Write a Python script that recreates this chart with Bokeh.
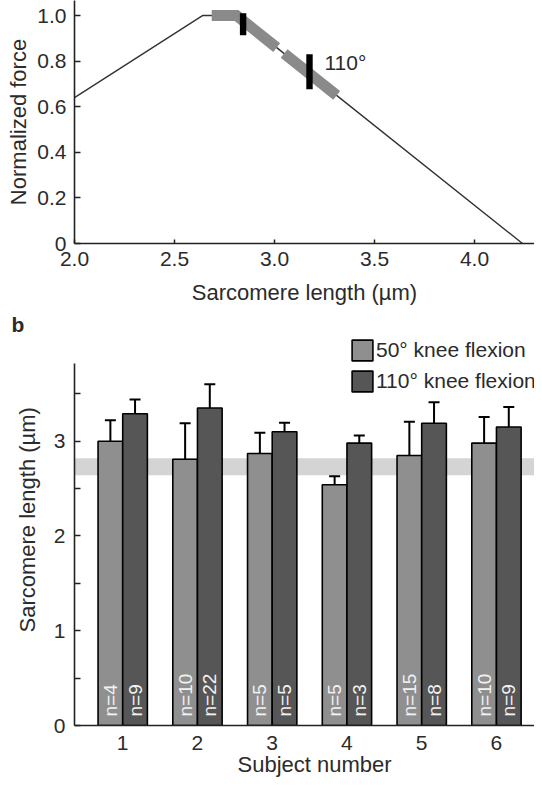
import numpy as np
from bokeh.plotting import figure
from bokeh.layouts import column
from bokeh.models import (FixedTicker, ColumnDataSource, Whisker, TeeHead, BoxAnnotation,
                          Legend, LegendItem, Title, Range1d)
from bokeh.core.properties import value
from bokeh.embed import file_html
from bokeh.resources import INLINE

FONT = "Liberation Sans"
TXT = "#2b2b2b"
AX = "#222222"

# ---------------- panel a: force-length relation ----------------
fl_x = [2.0, 2.64, 2.81, 4.24]
fl_y = [0.64, 1.0, 1.0, 0.0]
range50 = [2.686, 3.011]
range110 = [3.048, 3.311]
marker_x = [2.843, 3.175]
marker_lo = [0.914, 0.677]
marker_hi = [1.01, 0.83]
angle_label = "110°"
top_x_ticks = [2.0, 2.5, 3.0, 3.5, 4.0]
top_x_labels = ["2.0", "2.5", "3.0", "3.5", "4.0"]
top_y_ticks = [0, 0.2, 0.4, 0.6, 0.8, 1.0]
top_y_labels = ["0", "0.2", "0.4", "0.6", "0.8", "1.0"]

# ---------------- panel b: sarcomere lengths ----------------
subjects = [1, 2, 3, 4, 5, 6]
mean50 = [3.00, 2.81, 2.87, 2.54, 2.85, 2.98]
sd50 = [0.22, 0.38, 0.22, 0.09, 0.355, 0.275]
mean110 = [3.29, 3.35, 3.10, 2.98, 3.19, 3.15]
sd110 = [0.15, 0.25, 0.095, 0.08, 0.22, 0.21]
n50 = ["n=4", "n=10", "n=5", "n=5", "n=15", "n=10"]
n110 = ["n=9", "n=22", "n=5", "n=3", "n=8", "n=9"]
optimal = [2.64, 2.82]
bot_y_ticks = [0, 1, 2, 3]
bot_y_minor = [0.5, 1.5, 2.5, 3.5]
bot_y_axis_top = 3.82
series_labels = ["50° knee flexion", "110° knee flexion"]


def style_axes(p):
    for ax in (p.xaxis[0], p.yaxis[0]):
        ax.axis_line_color = AX
        ax.axis_line_width = 1.6
        ax.major_tick_line_color = AX
        ax.major_tick_line_width = 1.5
        ax.minor_tick_line_color = AX
        ax.minor_tick_line_width = 1.5
        ax.major_tick_out = 0
        ax.minor_tick_out = 0
        ax.major_label_text_font = FONT
        ax.major_label_text_font_size = "21px"
        ax.major_label_text_color = TXT
        ax.axis_label_text_font = FONT
        ax.axis_label_text_font_size = "22px"
        ax.axis_label_text_font_style = "normal"
        ax.axis_label_text_color = TXT
    p.xgrid.visible = False
    p.ygrid.visible = False
    p.outline_line_color = None


# ---------------- figure a ----------------
p1 = figure(width=534, height=338, x_range=Range1d(2.0, 4.30), y_range=Range1d(0, 1.066),
            output_backend="svg", toolbar_location=None,
            min_border_left=74, min_border_right=0, min_border_top=0, min_border_bottom=95)
style_axes(p1)
p1.xaxis.ticker = FixedTicker(ticks=top_x_ticks, minor_ticks=[])
p1.xaxis.major_label_overrides = dict(zip(top_x_ticks, top_x_labels))
p1.yaxis.ticker = FixedTicker(ticks=top_y_ticks, minor_ticks=[])
p1.yaxis.major_label_overrides = dict(zip(top_y_ticks, top_y_labels))
p1.xaxis.major_tick_in = 4
p1.yaxis.major_tick_in = 6
p1.xaxis.major_label_standoff = 8
p1.yaxis.major_label_standoff = 8
p1.xaxis.axis_label = "Sarcomere length (µm)"
p1.yaxis.axis_label = "Normalized force"
p1.xaxis.axis_label_standoff = 11
p1.yaxis.axis_label_standoff = 3

p1.line(fl_x, fl_y, line_color="#333333", line_width=1.4)


def band_points(r):
    xs = [r[0]] + [v for v in fl_x if r[0] < v < r[1]] + [r[1]]
    ys = list(np.interp(xs, fl_x, fl_y))
    return xs, ys


for r in (range50, range110):
    bx, by = band_points(r)
    p1.line(bx, by, line_color="#8a8a8a", line_width=11, line_cap="butt", line_join="miter")

p1.vbar(x=marker_x, bottom=marker_lo, top=marker_hi, width=0.032, fill_color="black",
        line_color=None)
p1.text(x=[marker_x[1]], y=[(marker_lo[1] + marker_hi[1]) / 2], text=[angle_label],
        x_offset=15, y_offset=-9, text_font=value(FONT), text_font_size="21px",
        text_color=TXT, text_align="left", text_baseline="middle")

# panel letter for the lower chart, placed under the upper chart's axis title
p1.add_layout(Title(text="b", align="left", offset=-63, vertical_align="bottom", standoff=6,
                    text_font=FONT, text_font_size="21px", text_font_style="bold",
                    text_color=TXT), "below")

# ---------------- figure b ----------------
p2 = figure(width=534, height=441, x_range=Range1d(0.355, 6.509), y_range=Range1d(0, 4.084),
            output_backend="svg", toolbar_location=None,
            min_border_left=74, min_border_right=0, min_border_top=0, min_border_bottom=54)
style_axes(p2)
p2.xaxis.ticker = FixedTicker(ticks=subjects, minor_ticks=[])
p2.xaxis.major_tick_in = 0
p2.xaxis.major_label_standoff = 10
p2.yaxis.ticker = FixedTicker(ticks=bot_y_ticks, minor_ticks=bot_y_minor)
p2.yaxis.bounds = (0, bot_y_axis_top)
p2.yaxis.major_tick_in = 6
p2.yaxis.minor_tick_in = 6
p2.yaxis.major_label_standoff = 9

p2.add_layout(BoxAnnotation(bottom=optimal[0], top=optimal[1], fill_color="#d4d4d4",
                            fill_alpha=1.0, line_color=None, level="underlay"))

off = 0.165
bw = 0.33
x50 = [s - off for s in subjects]
x110 = [s + off for s in subjects]
src50 = ColumnDataSource(dict(x=x50, top=mean50, up=[m + s for m, s in zip(mean50, sd50)],
                              lo=[m - s for m, s in zip(mean50, sd50)], n=n50))
src110 = ColumnDataSource(dict(x=x110, top=mean110, up=[m + s for m, s in zip(mean110, sd110)],
                               lo=[m - s for m, s in zip(mean110, sd110)], n=n110))

r50 = p2.vbar(x="x", top="top", bottom=0, width=bw, source=src50, fill_color="#8f8f8f",
              line_color="black", line_width=1.6)
r110 = p2.vbar(x="x", top="top", bottom=0, width=bw, source=src110, fill_color="#565656",
               line_color="black", line_width=1.6)

for src in (src50, src110):
    p2.add_layout(Whisker(source=src, base="x", upper="up", lower="lo", dimension="height",
                          line_color="black", line_width=2,
                          upper_head=TeeHead(size=11, line_color="black", line_width=2),
                          lower_head=TeeHead(size=11, line_color="black", line_width=2)))
    p2.text(x="x", y=0, text="n", source=src, angle=np.pi / 2, text_align="left",
            text_baseline="middle", y_offset=-9, text_font=value(FONT),
            text_font_size="19px", text_color="#f2f2f2")

legend = Legend(items=[LegendItem(label=series_labels[0], renderers=[r50]),
                       LegendItem(label=series_labels[1], renderers=[r110])],
                location=(275, 331), glyph_width=26, glyph_height=26, spacing=5,
                label_standoff=1, padding=0, margin=0, border_line_color=None,
                background_fill_alpha=0, label_text_font=FONT, label_text_font_size="21px",
                label_text_color=TXT)
p2.add_layout(legend, "center")

p2.add_layout(Title(text="Subject number", align="left", offset=163, vertical_align="bottom",
                    standoff=-6, text_font=FONT, text_font_size="22px",
                    text_font_style="normal", text_color=TXT), "below")
p2.add_layout(Title(text="Sarcomere length (µm)", align="left", offset=93,
                    vertical_align="middle", standoff=20, text_font=FONT,
                    text_font_size="22px", text_font_style="normal", text_color=TXT), "left")

layout = column(p1, p2, spacing=0)
open("out.html", "w").write(file_html(layout, INLINE))
